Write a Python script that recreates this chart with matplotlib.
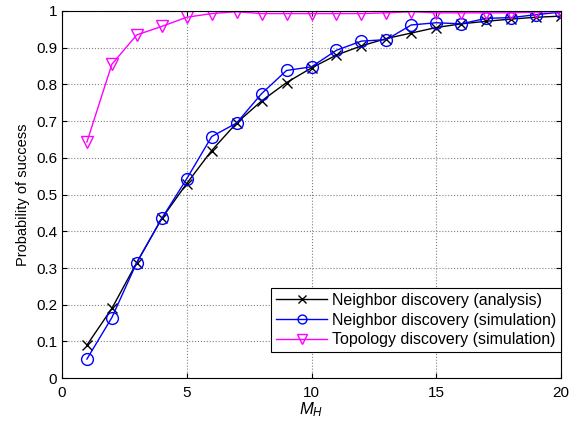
import matplotlib
matplotlib.use("Agg")
import matplotlib.pyplot as plt

plt.rcParams['font.family'] = ['Liberation Sans', 'DejaVu Sans']
plt.rcParams['mathtext.fontset'] = 'custom'
plt.rcParams['mathtext.it'] = 'Liberation Sans:italic'

m_h = list(range(1, 21))
nd_analysis = [0.09, 0.19, 0.315, 0.435, 0.53, 0.62, 0.695, 0.755, 0.805, 0.845,
               0.88, 0.905, 0.925, 0.94, 0.955, 0.965, 0.972, 0.978, 0.983, 0.986]
nd_simulation = [0.052, 0.165, 0.315, 0.435, 0.543, 0.658, 0.695, 0.775, 0.838, 0.848,
                 0.893, 0.918, 0.922, 0.962, 0.968, 0.965, 0.98, 0.982, 0.99, 0.997]
td_simulation = [0.643, 0.855, 0.935, 0.958, 0.983, 0.993, 0.998, 0.993, 0.993, 0.993,
                 0.993, 0.993, 0.995, 0.998, 0.995, 0.995, 0.995, 0.995, 0.997, 0.998]

fig = plt.figure(figsize=(5.79, 4.23), dpi=100)
ax = fig.add_axes([0.107, 0.106, 0.862, 0.868])

ax.plot(m_h, nd_analysis, color='black', marker='x', markersize=7, lw=1,
        markerfacecolor='none', label='Neighbor discovery (analysis)')
ax.plot(m_h, nd_simulation, color='blue', marker='o', markersize=8.5, lw=1,
        markerfacecolor='none', label='Neighbor discovery (simulation)')
ax.plot(m_h, td_simulation, color='magenta', marker='v', markersize=9, lw=1,
        markerfacecolor='none', label='Topology discovery (simulation)')

ax.set_xlim(0, 20)
ax.set_ylim(0, 1)
ax.set_xticks([0, 5, 10, 15, 20])
ax.set_yticks([i / 10 for i in range(11)])
ax.set_yticklabels(['0', '0.1', '0.2', '0.3', '0.4', '0.5', '0.6', '0.7', '0.8', '0.9', '1'])
ax.grid(True, linestyle=':', color='#808080', lw=0.8)
ax.tick_params(direction='in', top=True, right=True, labelsize=11)
ax.tick_params(axis='x', pad=6)
ax.set_xlabel('$M_H$', fontsize=12, labelpad=0)
ax.set_ylabel('Probability of success', fontsize=10.5)

leg = ax.legend(loc='lower right', bbox_to_anchor=(1.0, 0.071), fontsize=11.5,
                fancybox=False, framealpha=1, edgecolor='black', borderaxespad=0,
                handlelength=3.2, borderpad=0.3, labelspacing=0.3, handletextpad=0.3,
                markerscale=0.75)
leg.get_frame().set_linewidth(0.8)

fig.savefig('out.png', dpi=100)
